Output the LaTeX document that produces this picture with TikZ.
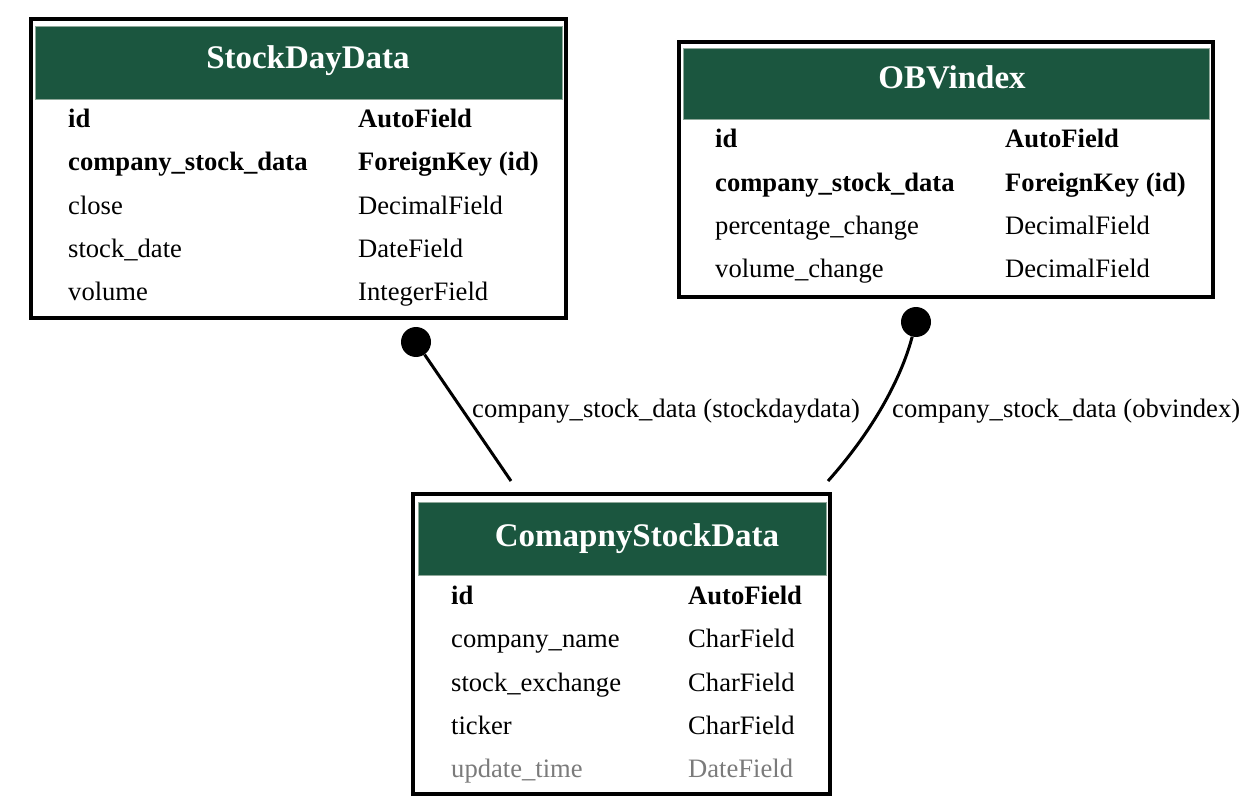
\documentclass[tikz,border=0pt]{standalone}
\usepackage{fontspec}
\setmainfont{Liberation Serif}
\begin{document}
\begin{tikzpicture}[x=1pt,y=-1pt,
  hdr/.style={fill=hdrgreen,draw=hdredge,line width=0.6pt,inner sep=0pt},
  title/.style={text=white,font=\fontsize{33pt}{38pt}\selectfont\bfseries,anchor=base,inner sep=0pt},
  fld/.style={font=\fontsize{26.6pt}{30pt}\selectfont,anchor=base west,inner sep=0pt},
  bfld/.style={fld,font=\fontsize{26.6pt}{30pt}\selectfont\bfseries},
  gfld/.style={fld,text=fieldgrey},
  frame/.style={line width=3.3pt},
  dotnode/.style={circle,fill=black,inner sep=0pt,minimum size=30pt},
  conn/.style={line width=3pt},
  elabel/.style={font=\fontsize{26.6pt}{30pt}\selectfont,anchor=base west,inner sep=0pt}]
\definecolor{hdrgreen}{HTML}{1B563F}
\definecolor{hdredge}{HTML}{8FA89A}
\definecolor{fieldgrey}{HTML}{7B7B7B}
\useasboundingbox (0,0) rectangle (1253,810);
\fill[white] (0,0) rectangle (1253,810);

% ---- StockDayData ----
\draw[frame] (31,19) rectangle (566,318);
\node[hdr,minimum width=527pt,minimum height=73pt] (hA) at (298.5,62.5) {};
\node[title] (tA) at (308,69) {StockDayData};
\node[bfld] (a1) at (68,128) {id};
\node[bfld] (a1t) at (358,128) {AutoField};
\node[bfld] (a2) at (68,171) {company\_stock\_data};
\node[bfld] (a2t) at (358,171) {ForeignKey (id)};
\node[fld] (a3) at (68,215) {close};
\node[fld] (a3t) at (358,215) {DecimalField};
\node[fld] (a4) at (68,258) {stock\_date};
\node[fld] (a4t) at (358,258) {DateField};
\node[fld] (a5) at (68,301) {volume};
\node[fld] (a5t) at (358,301) {IntegerField};

% ---- OBVindex ----
\draw[frame] (679,42) rectangle (1213,297);
\node[hdr,minimum width=526pt,minimum height=71pt] (hB) at (946,83.5) {};
\node[title] (tB) at (952,89) {OBVindex};
\node[bfld] (b1) at (715,148) {id};
\node[bfld] (b1t) at (1005,148) {AutoField};
\node[bfld] (b2) at (715,192) {company\_stock\_data};
\node[bfld] (b2t) at (1005,192) {ForeignKey (id)};
\node[fld] (b3) at (715,235) {percentage\_change};
\node[fld] (b3t) at (1005,235) {DecimalField};
\node[fld] (b4) at (715,278) {volume\_change};
\node[fld] (b4t) at (1005,278) {DecimalField};

% ---- ComapnyStockData ----
\draw[frame] (413,494) rectangle (830,794);
\node[hdr,minimum width=408pt,minimum height=73pt] (hC) at (622,538.5) {};
\node[title] (tC) at (637,546) {ComapnyStockData};
\node[bfld] (c1) at (451,604) {id};
\node[bfld] (c1t) at (688,604) {AutoField};
\node[fld] (c2) at (451,647) {company\_name};
\node[fld] (c2t) at (688,647) {CharField};
\node[fld] (c3) at (451,691) {stock\_exchange};
\node[fld] (c3t) at (688,691) {CharField};
\node[fld] (c4) at (451,734) {ticker};
\node[fld] (c4t) at (688,734) {CharField};
\node[gfld] (c5) at (451,777) {update\_time};
\node[gfld] (c5t) at (688,777) {DateField};

% ---- connectors ----
\node[dotnode] (d1) at (416,342) {};
\node[dotnode] (d2) at (916,322) {};
\coordinate (e1) at (511,481);
\coordinate (e2) at (828,481);
\draw[conn] (d1) -- (e1);
\draw[conn] (d2) .. controls (903,372) and (878,425) .. (e2);
\node[elabel] (l1) at (472,417) {company\_stock\_data (stockdaydata)};
\node[elabel] (l2) at (892,417) {company\_stock\_data (obvindex)};
\end{tikzpicture}
\end{document}
